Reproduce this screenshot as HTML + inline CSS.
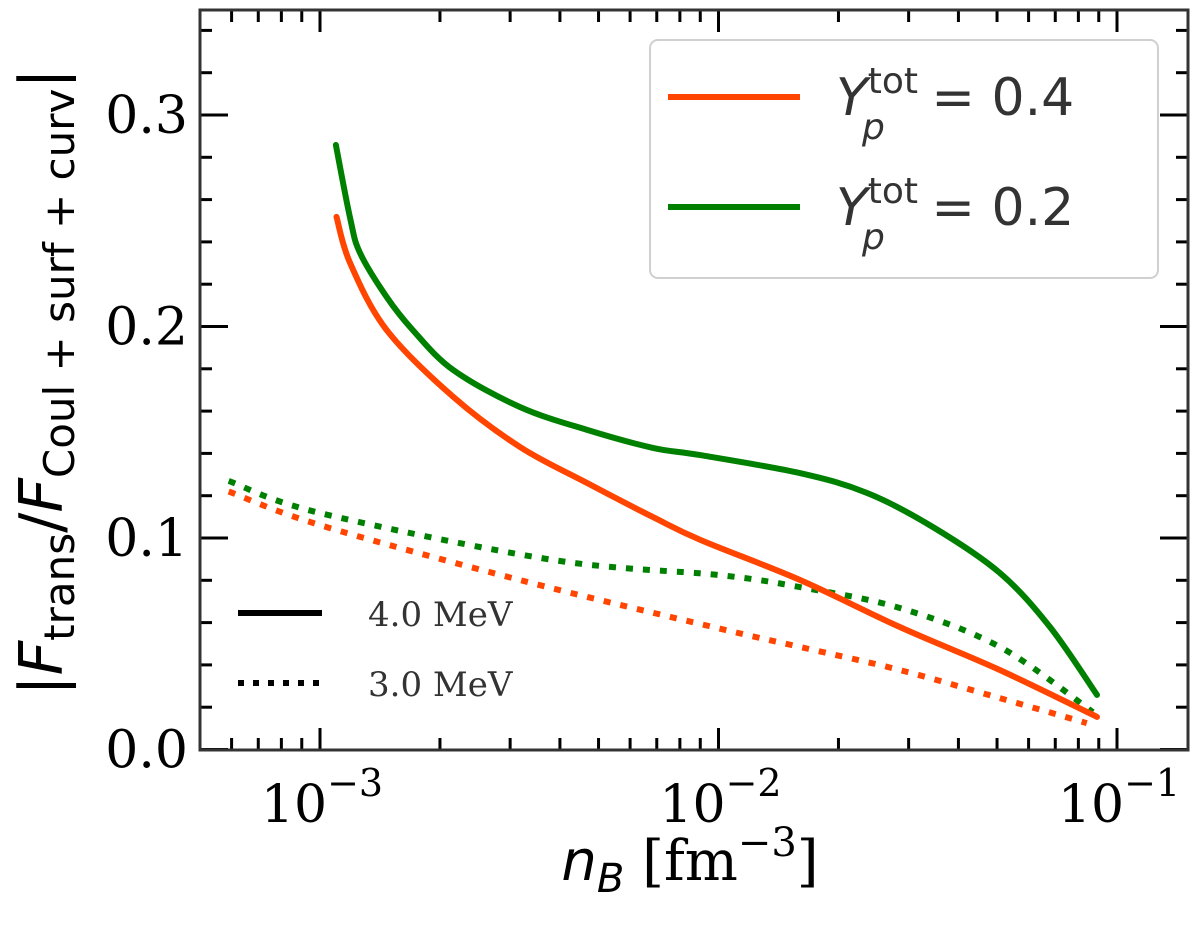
<!DOCTYPE html>
<html><head><meta charset="utf-8"><style>
body{margin:0;background:#fff}
svg{display:block}
text{font-family:"DejaVu Serif","Liberation Serif",serif;fill:#000}
.s{font-family:"DejaVu Sans","Liberation Sans",sans-serif}
</style></head><body>
<svg id="c" width="1200" height="931" viewBox="0 0 1200 931">
<g id="plot"></g>
<rect x="200" y="10" width="988" height="740" fill="none" stroke="#333" stroke-width="3"/>
<g>
<rect x="650" y="40" width="508" height="238" rx="8" fill="#fff" stroke="#ccc" stroke-width="2" opacity="0.9"/>
<line x1="668" y1="97" x2="800" y2="97" stroke="#ff4500" stroke-width="6"/>
<text x="836" y="115" font-size="52" class="s" style="fill:#333"><tspan font-style="italic">Y</tspan><tspan font-size="36" dy="-22">tot</tspan><tspan font-size="36" font-style="italic" dx="-56" dy="46">p</tspan><tspan dx="30" dy="-24"> = 0.4</tspan></text>
<line x1="668" y1="207" x2="800" y2="207" stroke="#008000" stroke-width="6"/>
<text x="836" y="225" font-size="52" class="s" style="fill:#333"><tspan font-style="italic">Y</tspan><tspan font-size="36" dy="-22">tot</tspan><tspan font-size="36" font-style="italic" dx="-56" dy="46">p</tspan><tspan dx="30" dy="-24"> = 0.2</tspan></text>
</g>
<g>
<line x1="238" y1="613" x2="322" y2="613" stroke="#000" stroke-width="6"/>
<text x="368" y="626" font-size="34" style="fill:#333">4.0 MeV</text>
<line x1="238" y1="683" x2="322" y2="683" stroke="#000" stroke-width="6" stroke-dasharray="6,9"/>
<text x="368" y="696" font-size="34" style="fill:#333">3.0 MeV</text>
</g>
<text transform="translate(62,382) rotate(-90)" text-anchor="middle" font-size="60" class="s">|<tspan font-style="italic">F</tspan><tspan font-size="42" dy="12">trans</tspan><tspan dy="-12">/</tspan><tspan font-style="italic">F</tspan><tspan font-size="42" dy="12">Coul + surf + curv</tspan><tspan dy="-12">|</tspan></text>
<text x="690" y="880" text-anchor="middle" font-size="56"><tspan font-style="italic" class="s">n</tspan><tspan font-style="italic" font-size="40" dy="12" class="s">B</tspan><tspan dy="-12"> [fm</tspan><tspan font-size="40" dy="-24">−3</tspan><tspan dy="24">]</tspan></text>
</svg>
<script>
const xTicks=[-3,-2,-1];
const xTickLabels=["10","10","10"];
const xTickExp=["−3","−2","−1"];
const yTicks=[0,0.1,0.2,0.3];
const yTickLabels=["0.0","0.1","0.2","0.3"];
const redSolidX=[1.1e-3,1.19e-3,1.47e-3,2.16e-3,3.18e-3,4.68e-3,6.85e-3,9.0e-3,1.6e-2,2.85e-2,5.08e-2,8.91e-2];
const redSolidY=[0.2518,0.230,0.1983,0.1667,0.143,0.126,0.1099,0.0991,0.0802,0.0579,0.0376,0.0154];
const greenSolidX=[1.096e-3,1.19e-3,1.26e-3,1.47e-3,1.71e-3,2.16e-3,3.18e-3,4.68e-3,6.85e-3,9.0e-3,1.6e-2,2.36e-2,3.45e-2,5.08e-2,6.79e-2,8.91e-2];
const greenSolidY=[0.2858,0.2513,0.2348,0.2139,0.1983,0.1794,0.1619,0.1511,0.1426,0.1392,0.1307,0.1213,0.1052,0.0835,0.0579,0.0258];
const greenDotX=[5.9e-4,1e-3,3.85e-3,1e-2,1.6e-2,2.85e-2,5.08e-2,8.7e-2];
const greenDotY=[0.127,0.1118,0.0896,0.0825,0.0768,0.0669,0.0485,0.0177];
const redDotX=[5.9e-4,1e-3,3.18e-3,9.68e-3,1.6e-2,2.85e-2,5.08e-2,8.4e-2];
const redDotY=[0.122,0.1061,0.0801,0.0579,0.0485,0.0376,0.0243,0.0125];
const NS="http://www.w3.org/2000/svg";
const X=v=>320+(Math.log10(v)+3)*398.5;
const XL=l=>320+(l+3)*398.5;
const Y=v=>749.5-v*2115;
const g=document.getElementById('plot');
function mk(t,a){const e=document.createElementNS(NS,t);for(const k in a)e.setAttribute(k,a[k]);g.appendChild(e);return e;}
for(let d=-4;d<=-1;d++){for(let m=1;m<10;m++){const l=d+Math.log10(m);const x=XL(l);if(x<201||x>1187)continue;const len=m===1?22:12;
const t1=mk('line',{x1:x,y1:750,x2:x,y2:750-len,stroke:'#000','stroke-width':3});


const t2=mk('line',{x1:x,y1:10,x2:x,y2:10+len,stroke:'#000','stroke-width':3});

}}
for(let i=0;i<=17;i++){const v=i*0.02;const y=Y(v);if(y<11)continue;const major=Math.abs(v*10-Math.round(v*10))<1e-6;const len=major?28:12;
const a=mk('line',{x1:200,y1:y,x2:200+len,y2:y,stroke:'#000','stroke-width':3});


const b=mk('line',{x1:1188,y1:y,x2:1188-len,y2:y,stroke:'#000','stroke-width':3});

}
yTicks.forEach((v,i)=>{const t=mk('text',{x:188,y:Y(v)+18,'text-anchor':'end','font-size':52});t.textContent=yTickLabels[i];

});
xTicks.forEach((l,i)=>{const t=mk('text',{x:XL(l)+2,y:822,'text-anchor':'middle','font-size':52});
t.innerHTML=xTickLabels[i]+'<tspan font-size="38" dy="-26">'+xTickExp[i]+'</tspan>';

});
function line(xs,ys,col,dash,name){
const P=xs.map((x,i)=>[X(x),Y(ys[i])]);
let d='M'+P[0][0].toFixed(1)+','+P[0][1].toFixed(1);
for(let i=0;i<P.length-1;i++){const p0=P[Math.max(0,i-1)],p1=P[i],p2=P[i+1],p3=P[Math.min(P.length-1,i+2)];
const c1=[p1[0]+(p2[0]-p0[0])/6,p1[1]+(p2[1]-p0[1])/6],c2=[p2[0]-(p3[0]-p1[0])/6,p2[1]-(p3[1]-p1[1])/6];
d+='C'+c1.map(v=>v.toFixed(1))+' '+c2.map(v=>v.toFixed(1))+' '+p2.map(v=>v.toFixed(1));}
const p=mk('path',{d:d,fill:'none',stroke:col,'stroke-width':6,'stroke-linejoin':'round','stroke-linecap':dash?'butt':'round'});
if(dash)p.setAttribute('stroke-dasharray','7,10');

}
line(redDotX,redDotY,'#ff4500',true,'series-red-3mev');
line(greenDotX,greenDotY,'#008000',true,'series-green-3mev');
line(redSolidX,redSolidY,'#ff4500',false,'series-red-4mev');
line(greenSolidX,greenSolidY,'#008000',false,'series-green-4mev');
</script>
</body></html>
